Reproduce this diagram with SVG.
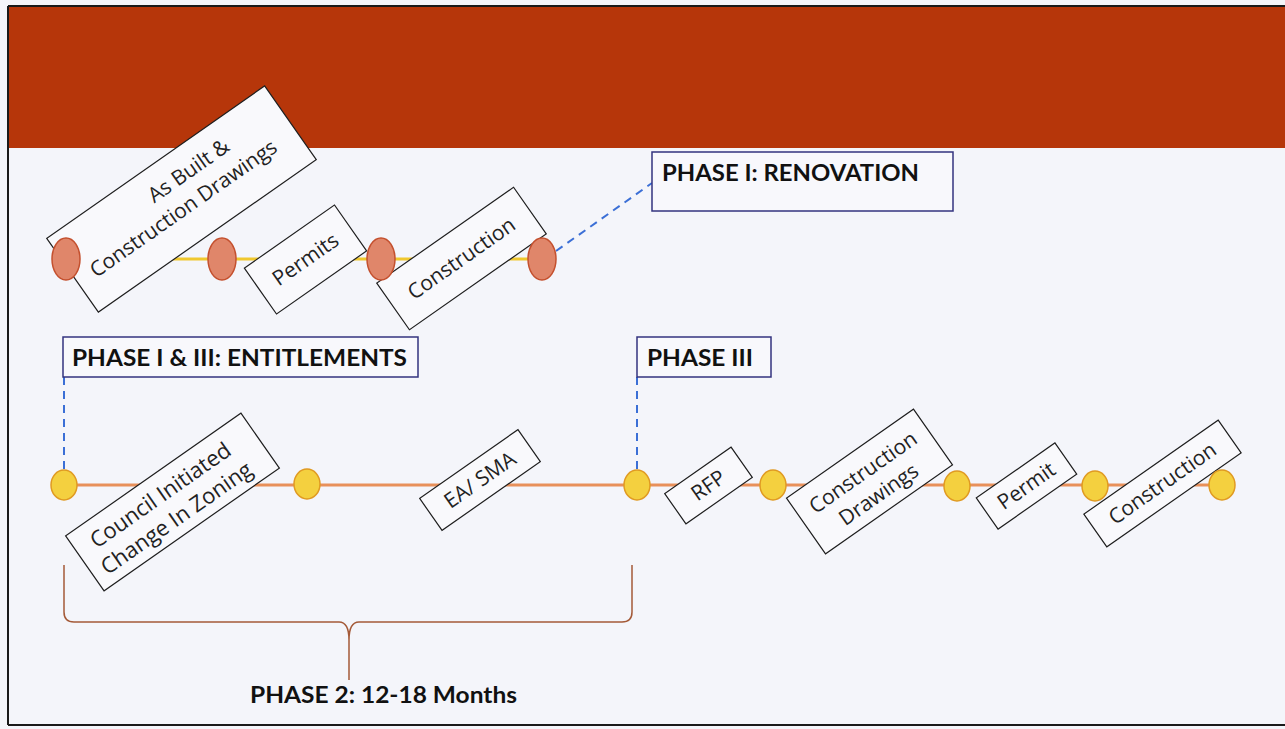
<svg xmlns="http://www.w3.org/2000/svg" width="1285" height="729" viewBox="0 0 1285 729">
<style>
.bx rect{fill:#F9F9FC;stroke:#1E1E1E;stroke-width:1.2}
.bx text{font-family:"Open Sans","DejaVu Sans",sans-serif;font-size:21px;fill:#222;text-anchor:middle}
.ph rect{fill:#F8F8FC;stroke:#33337F;stroke-width:1.5}
.ph text,.lbl{font-family:Lato,"Liberation Sans",sans-serif;font-weight:bold;font-size:22px;fill:#111}
.oe{fill:#E0866A;stroke:#C4502E;stroke-width:1.5}
.ye{fill:#F4D03F;stroke:#E09A22;stroke-width:1.5}
.dash{stroke:#3B6FD6;stroke-width:2;stroke-dasharray:8 6;fill:none}
</style>
<rect x="0" y="0" width="1285" height="729" fill="#F4F5FA"/>
<rect x="9" y="7" width="1276" height="141" fill="#B6360A"/>
<g id="frame" fill="none" stroke="#1A1A1A" stroke-width="2">
<line x1="8" y1="6" x2="1285" y2="6"/>
<line x1="8" y1="6" x2="8" y2="725"/>
<line x1="8" y1="725" x2="1285" y2="725"/>
</g>
<g id="connectors">
<line x1="66" y1="259" x2="541" y2="259" stroke="#F0C82E" stroke-width="3"/>
<line x1="64" y1="485" x2="1222" y2="485" stroke="#E8905A" stroke-width="3"/>
<line class="dash" x1="556" y1="251" x2="652" y2="183"/>
<line class="dash" x1="64" y1="377" x2="64" y2="470"/>
<line class="dash" x1="637" y1="377" x2="637" y2="470"/>
<path d="M64,565 V612 Q64,622 74,622 H339 Q349,622 349,640 V680 M632,565 V612 Q632,622 622,622 H359 Q349,622 349,640" fill="none" stroke="#A45A38" stroke-width="1.5"/>
</g>
<g id="box-asbuilt" class="bx" transform="translate(181.5,199) rotate(-35)">
<rect x="-133" y="-45" width="266" height="90"/>
<text x="22" y="-12">As Built &amp;</text>
<text x="-4" y="16">Construction Drawings</text>
</g>
<g id="box-permits" class="bx" transform="translate(305.5,259.5) rotate(-35)">
<rect x="-55" y="-28" width="110" height="56"/>
<text x="0" y="7">Permits</text>
</g>
<g id="box-construction-top" class="bx" transform="translate(461.5,258.5) rotate(-35)">
<rect x="-83.5" y="-28.5" width="167" height="57"/>
<text x="0" y="7">Construction</text>
</g>
<g id="m-top-1"><ellipse class="oe" cx="66" cy="259" rx="14" ry="21"/></g>
<g id="m-top-2"><ellipse class="oe" cx="222" cy="259" rx="14" ry="21"/></g>
<g id="m-top-3"><ellipse class="oe" cx="381" cy="259" rx="14" ry="21"/></g>
<g id="m-top-4"><ellipse class="oe" cx="542" cy="259" rx="14" ry="21"/></g>
<g id="phase1-renovation" class="ph">
<rect x="652" y="152" width="301" height="59"/>
<text x="662" y="181" textLength="257" lengthAdjust="spacingAndGlyphs">PHASE I: RENOVATION</text>
</g>
<g id="phase1-3-entitlements" class="ph">
<rect x="63" y="337" width="355" height="40"/>
<text x="72" y="366" textLength="335" lengthAdjust="spacingAndGlyphs">PHASE I &amp; III: ENTITLEMENTS</text>
</g>
<g id="phase3" class="ph">
<rect x="637" y="337" width="134" height="40"/>
<text x="647" y="366" textLength="106" lengthAdjust="spacingAndGlyphs">PHASE III</text>
</g>
<g id="box-council" class="bx" transform="translate(172.5,502) rotate(-35)">
<rect x="-107" y="-33.5" width="214" height="67"/>
<text x="-6" y="-5" style="font-size:22px">Council Initiated</text>
<text x="-6" y="23" style="font-size:22px">Change In Zoning</text>
</g>
<g id="box-easma" class="bx" transform="translate(480,480) rotate(-35)">
<rect x="-60" y="-19.5" width="120" height="39"/>
<text x="0" y="7">EA/ SMA</text>
</g>
<g id="box-rfp" class="bx" transform="translate(708.5,485.5) rotate(-35)">
<rect x="-40.5" y="-18.5" width="81" height="37"/>
<text x="0" y="7">RFP</text>
</g>
<g id="box-construction-drawings" class="bx" transform="translate(869.5,481.5) rotate(-35)">
<rect x="-77.5" y="-34" width="155" height="68"/>
<text x="0" y="-4">Construction</text>
<text x="0" y="23">Drawings</text>
</g>
<g id="box-permit" class="bx" transform="translate(1026.5,486) rotate(-35)">
<rect x="-48" y="-19" width="96" height="38"/>
<text x="0" y="7">Permit</text>
</g>
<g id="box-construction-bottom" class="bx" transform="translate(1162.5,483.5) rotate(-35)">
<rect x="-82" y="-20" width="164" height="40"/>
<text x="0" y="7">Construction</text>
</g>
<g id="m-1"><ellipse class="ye" cx="64" cy="485" rx="13" ry="15"/></g>
<g id="m-2"><ellipse class="ye" cx="307" cy="484" rx="13" ry="15"/></g>
<g id="m-3"><ellipse class="ye" cx="637" cy="485" rx="13" ry="15"/></g>
<g id="m-4"><ellipse class="ye" cx="773" cy="485" rx="13" ry="15"/></g>
<g id="m-5"><ellipse class="ye" cx="957" cy="486" rx="13" ry="15"/></g>
<g id="m-6"><ellipse class="ye" cx="1095" cy="486" rx="13" ry="15"/></g>
<g id="m-7"><ellipse class="ye" cx="1222" cy="485" rx="13" ry="15"/></g>
<g id="phase2-label">
<text class="lbl" x="250" y="703" textLength="267" lengthAdjust="spacingAndGlyphs">PHASE 2: 12-18 Months</text>
</g>
</svg>
